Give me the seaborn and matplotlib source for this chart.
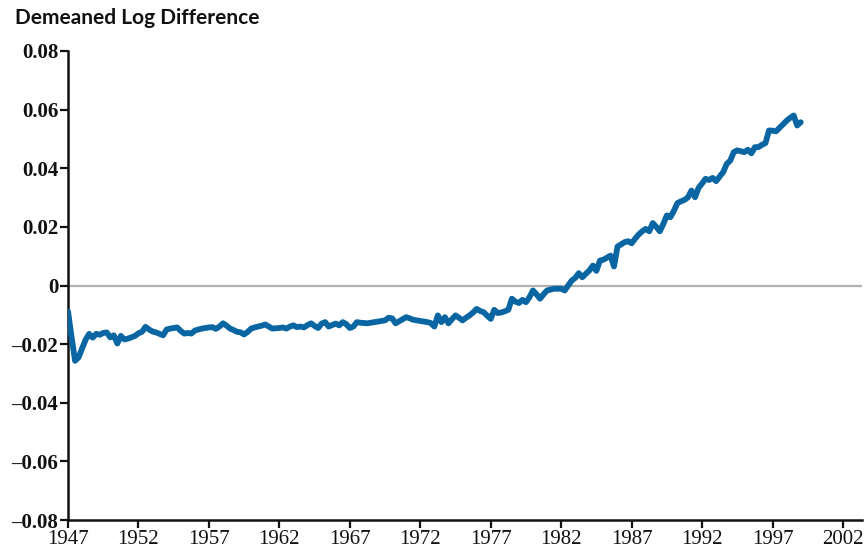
import numpy as np
import pandas as pd
import matplotlib
matplotlib.use('Agg')
import matplotlib.pyplot as plt
import seaborn as sns

# quarterly values, 1947Q1 .. 1999Q1
values = [
    -0.0088, -0.0175, -0.0257, -0.0245,   # 1947
    -0.0215, -0.0185, -0.0165, -0.0178,   # 1948
    -0.0165, -0.0168, -0.0162, -0.0160,   # 1949
    -0.0177, -0.0170, -0.0198, -0.0172,   # 1950
    -0.0184, -0.0181, -0.0177, -0.0172,   # 1951
    -0.0163, -0.0158, -0.0141, -0.0150,   # 1952
    -0.0157, -0.0160, -0.0165, -0.0170,   # 1953
    -0.0150, -0.0147, -0.0145, -0.0143,   # 1954
    -0.0155, -0.0164, -0.0162, -0.0164,   # 1955
    -0.0154, -0.0150, -0.0147, -0.0145,   # 1956
    -0.0143, -0.0142, -0.0148, -0.0140,   # 1957
    -0.0129, -0.0137, -0.0147, -0.0152,   # 1958
    -0.0158, -0.0160, -0.0167, -0.0158,   # 1959
    -0.0147, -0.0143, -0.0140, -0.0137,   # 1960
    -0.0133, -0.0140, -0.0147, -0.0146,   # 1961
    -0.0145, -0.0143, -0.0147, -0.0140,   # 1962
    -0.0136, -0.0142, -0.0140, -0.0143,   # 1963
    -0.0135, -0.0129, -0.0138, -0.0145,   # 1964
    -0.0130, -0.0125, -0.0140, -0.0135,   # 1965
    -0.0130, -0.0136, -0.0125, -0.0132,   # 1966
    -0.0145, -0.0140, -0.0125, -0.0127,   # 1967
    -0.0128, -0.0129, -0.0127, -0.0125,   # 1968
    -0.0123, -0.0121, -0.0119, -0.0110,   # 1969
    -0.0112, -0.0129, -0.0122, -0.0115,   # 1970
    -0.0108, -0.0112, -0.0117, -0.0119,   # 1971
    -0.0121, -0.0123, -0.0125, -0.0128,   # 1972
    -0.0140, -0.0102, -0.0125, -0.0108,   # 1973
    -0.0129, -0.0115, -0.0102, -0.0110,   # 1974
    -0.0119, -0.0110, -0.0102, -0.0092,   # 1975
    -0.0080, -0.0087, -0.0091, -0.0103,   # 1976
    -0.0114, -0.0083, -0.0094, -0.0092,   # 1977
    -0.0088, -0.0083, -0.0045, -0.0055,   # 1978
    -0.0060, -0.0049, -0.0057, -0.0040,   # 1979
    -0.0017, -0.0030, -0.0045, -0.0030,   # 1980
    -0.0017, -0.0014, -0.0011, -0.0011,   # 1981
    -0.0011, -0.0017, 0.0000, 0.0017,     # 1982
    0.0026, 0.0042, 0.0028, 0.0040,       # 1983
    0.0051, 0.0068, 0.0050, 0.0085,       # 1984
    0.0088, 0.0095, 0.0102, 0.0065,       # 1985
    0.0133, 0.0140, 0.0148, 0.0151,       # 1986
    0.0144, 0.0160, 0.0174, 0.0185,       # 1987
    0.0193, 0.0185, 0.0213, 0.0200,       # 1988
    0.0185, 0.0210, 0.0239, 0.0233,       # 1989
    0.0255, 0.0281, 0.0287, 0.0292,       # 1990
    0.0301, 0.0324, 0.0301, 0.0333,       # 1991
    0.0348, 0.0364, 0.0360, 0.0367,       # 1992
    0.0356, 0.0372, 0.0387, 0.0415,       # 1993
    0.0426, 0.0455, 0.0461, 0.0458,       # 1994
    0.0455, 0.0463, 0.0451, 0.0472,       # 1995
    0.0472, 0.0480, 0.0486, 0.0529,       # 1996
    0.0528, 0.0526, 0.0538, 0.0550,       # 1997
    0.0562, 0.0572, 0.0580, 0.0546,       # 1998
    0.0557,                               # 1999
]
start_year = 1947

x_ticks = [1947, 1952, 1957, 1962, 1967, 1972, 1977, 1982, 1987, 1992, 1997, 2002]
y_ticks = [-0.08, -0.06, -0.04, -0.02, 0, 0.02, 0.04, 0.06, 0.08]
y_labels = ['\u20130.08', '\u20130.06', '\u20130.04', '\u20130.02', '0',
            '0.02', '0.04', '0.06', '0.08']

df = pd.DataFrame({'year': start_year + np.arange(len(values)) / 4,
                   'value': values})

sns.set_style('ticks')
fig = plt.figure(figsize=(8.64, 5.52), dpi=100)
ax = fig.add_axes([68 / 864, 1 - 520 / 552, 794 / 864, 469 / 552])

ax.axhline(0, color='#b0b0b0', lw=1.6, zorder=1)
sns.lineplot(data=df, x='year', y='value', color='#0A66A3', lw=4.2, ax=ax, zorder=3)

ax.set_xlim(1947, 2003.35)
ax.set_ylim(-0.08, 0.08)
ax.set_xticks(x_ticks)
ax.set_xticklabels([str(t) for t in x_ticks], fontfamily='Liberation Serif', fontsize=15)
ax.set_yticks(y_ticks)
ax.set_yticklabels(y_labels, fontfamily='Liberation Serif', fontsize=15, fontweight='bold')
ax.set_xlabel('')
ax.set_ylabel('')

for side in ['top', 'right']:
    ax.spines[side].set_visible(False)
for side in ['left', 'bottom']:
    ax.spines[side].set_linewidth(1.8)
    ax.spines[side].set_color('#111111')
ax.tick_params(axis='both', direction='out', length=6, width=1.6, color='#111111',
               labelcolor='#111111', pad=1)

fig.text(15 / 864, 1 - 18 / 552, 'Demeaned Log Difference', fontfamily='Lato',
         fontsize=15, fontweight='bold', color='#111111', va='center', ha='left')

fig.savefig('out.png', dpi=100)
